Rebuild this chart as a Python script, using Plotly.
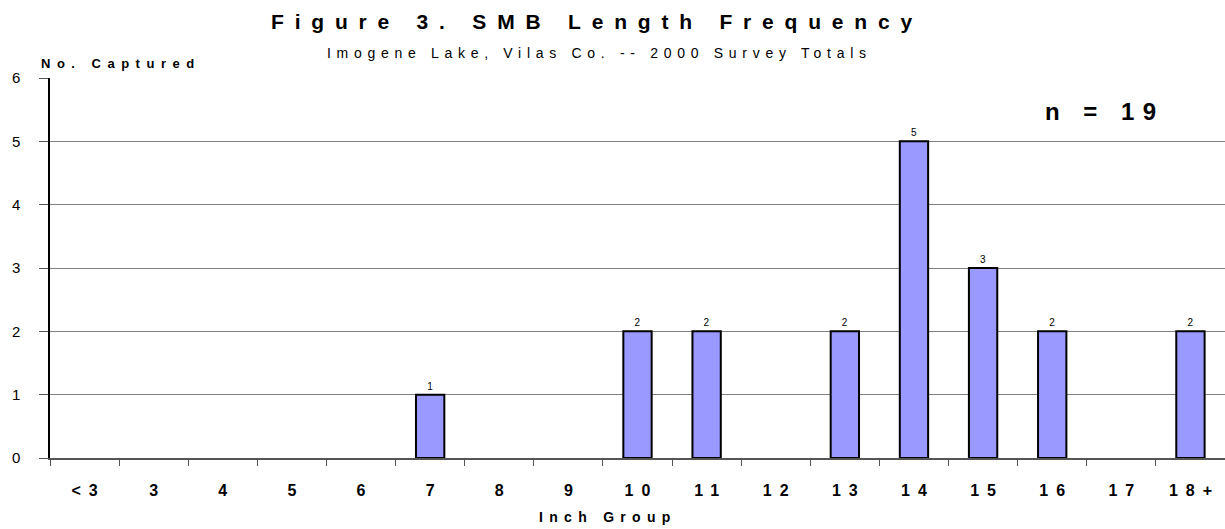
import plotly.graph_objects as go

categories = ["<3", "3", "4", "5", "6", "7", "8", "9", "10", "11", "12", "13", "14", "15", "16", "17", "18+"]
counts = [0, 0, 0, 0, 0, 1, 0, 0, 2, 2, 0, 2, 5, 3, 2, 0, 2]
title_text = "Figure 3. SMB Length Frequency"
subtitle_text = "Imogene Lake, Vilas Co. -- 2000 Survey Totals"
y_title = "No. Captured"
x_title = "Inch Group"
n_text = "n = 19"

FONT = "Liberation Sans, Arial, sans-serif"

def sp(t, px):
    return '<span style="letter-spacing:%spx">%s</span>' % (px, t)

bar_vals = [v if v > 0 else None for v in counts]
labels = [str(v) if v > 0 else "" for v in counts]

W, H = 1225, 529
L, R, T, B = 50, 0, 78, 71

fig = go.Figure(go.Bar(
    x=categories, y=bar_vals,
    marker=dict(color="#9999FF", line=dict(color="black", width=2)),
    text=labels, textposition="outside", cliponaxis=False,
    textfont=dict(family=FONT, size=10, color="#000000"),
))

fig.update_layout(
    width=W, height=H,
    margin=dict(l=L, r=R, t=T, b=B),
    paper_bgcolor="white", plot_bgcolor="white",
    bargap=0.59, showlegend=False,
    font=dict(family=FONT, color="black"),
    xaxis=dict(
        type="category", tickmode="array", tickvals=categories,
        ticktext=[sp("<b>%s</b>" % c, 8) for c in categories],
        tickfont=dict(size=16), showgrid=False,
        showline=True, linecolor="#555555", linewidth=2,
        ticks="outside", tickson="boundaries", ticklen=6, tickcolor="#555555",
        ticklabelstandoff=17, ticklabelshift=4,
    ),
    yaxis=dict(
        range=[0, 6], dtick=1, tickfont=dict(size=15),
        showgrid=True, gridcolor="#808080", gridwidth=1,
        showline=True, linecolor="black", linewidth=1.5,
        ticks="outside", ticklen=9, tickcolor="#555555",
        zeroline=False, ticklabelstandoff=16,
    ),
)

pw = W - L - R
ph = H - T - B
def px(xp): return (xp - L) / pw
def py(yp): return (H - B - yp) / ph

ann_specs = [
    (sp("<b>%s</b>" % title_text, 10.8), 21, 597, 22),
    (sp(subtitle_text, 5.7), 14, 599, 53),
    (sp("<b>%s</b>" % y_title, 6.5), 13, 121, 63),
    (sp("<b>%s</b>" % x_title, 6.3), 14, 608, 517),
    (sp("<b>%s</b>" % n_text, 8.5), 24, 1105, 112),
]
for txt, size, xx, yy in ann_specs:
    fig.add_annotation(text=txt, x=px(xx), y=py(yy), xref="paper", yref="paper",
                       xanchor="center", yanchor="middle", showarrow=False,
                       font=dict(size=size, family=FONT, color="black"))

fig.write_html("out.html", config={"displayModeBar": False},
               post_script="document.body.style.margin='0';document.body.style.padding='0';")
